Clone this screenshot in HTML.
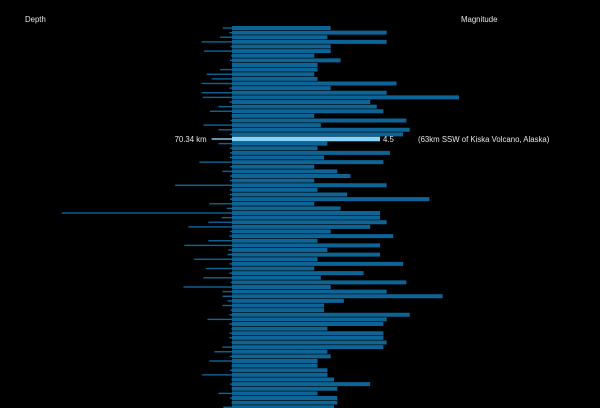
<!DOCTYPE html>
<html><head><meta charset="utf-8"><style>
html,body{margin:0;padding:0;background:#000;}
svg{display:block;}
text{font-family:"Liberation Sans",sans-serif;font-size:7.8px;fill:#e6e6e6;}
</style></head><body>
<svg id="chart" width="600" height="408">
<text x="25" y="22">Depth</text>
<text x="461" y="22">Magnitude</text>
<g id="depth"></g>
<g id="mag"></g>
<g id="labels"></g>
</svg>
<script>
const magnitudes = [3.0,4.7,2.9,4.7,3.0,3.0,2.5,3.3,2.6,2.6,2.5,2.6,5.0,3.0,4.7,6.9,4.2,4.4,4.6,2.5,5.3,
2.7,5.4,5.2,4.5,2.9,2.6,4.8,2.8,4.6,2.5,3.2,3.6,2.5,4.7,2.6,3.5,6.0,2.5,3.3,
4.5,4.5,4.7,4.2,3.0,4.9,2.6,4.5,2.9,4.5,2.6,5.2,2.5,4.0,2.7,5.3,3.0,4.7,6.4,3.4,2.8,2.8,
5.4,4.7,4.6,2.9,4.6,4.6,4.7,4.6,2.9,3.0,2.6,2.6,2.9,2.9,3.1,4.2,3.2,2.6,3.2,3.2,3.1];
const depths = [32,9,41,105,5,97,3,7,1,41,88,70,105,9,105,101,9,47,76,2,5,
99,47,7,70.34,47,7,7,7,113,7,33,7,7,197,7,7,7,78,18,
589,36,82,151,7,9,82,165,13,16,131,9,90,9,99,5,168,33,33,16,33,5,
9,85,9,2,9,9,2,33,61,7,78,2,7,103,2,7,2,47,7,2,30];
const highlightIndex = 24;
const highlightPlace = "(63km SSW of Kiska Volcano, Alaska)";

const NS="http://www.w3.org/2000/svg";
const axisX=232, top0=26, pitch=4.625, barH=4;
const xMag=v=>v*32.9;
const xDepth=v=>v*0.289;
const yRow=i=>top0+i*pitch;
const gD=document.getElementById('depth'), gM=document.getElementById('mag'), gL=document.getElementById('labels');
magnitudes.forEach((m,i)=>{
  const hl=i===highlightIndex;
  const r=document.createElementNS(NS,'rect');
  r.setAttribute('x',axisX);r.setAttribute('y',yRow(i)-(hl?0.3:0));
  r.setAttribute('width',xMag(m));r.setAttribute('height',hl?barH+0.6:barH);
  r.setAttribute('fill',hl?'#86d3f7':'#0d6496');
  
  
  gM.appendChild(r);
  const d=document.createElementNS(NS,'rect');
  const w=xDepth(depths[i]);
  d.setAttribute('x',axisX-w);d.setAttribute('y',yRow(i)+1.3);
  d.setAttribute('width',w);d.setAttribute('height',1.4);
  d.setAttribute('fill',hl?'#86d3f7':'#0d6496');
  
  
  gD.appendChild(d);
});
const yc=yRow(highlightIndex)+barH/2+3;
function lab(x,txt,anchor,name){
  const t=document.createElementNS(NS,'text');
  t.setAttribute('x',x);t.setAttribute('y',yc);t.setAttribute('text-anchor',anchor);
  t.textContent=txt;
  
  
  gL.appendChild(t);
}
lab(axisX-xDepth(depths[highlightIndex])-5,depths[highlightIndex]+' km','end','depth-value-label');
lab(axisX+xMag(magnitudes[highlightIndex])+3,String(magnitudes[highlightIndex]),'start','magnitude-value-label');
lab(418,highlightPlace,'start','place-label');
</script>
</body></html>
